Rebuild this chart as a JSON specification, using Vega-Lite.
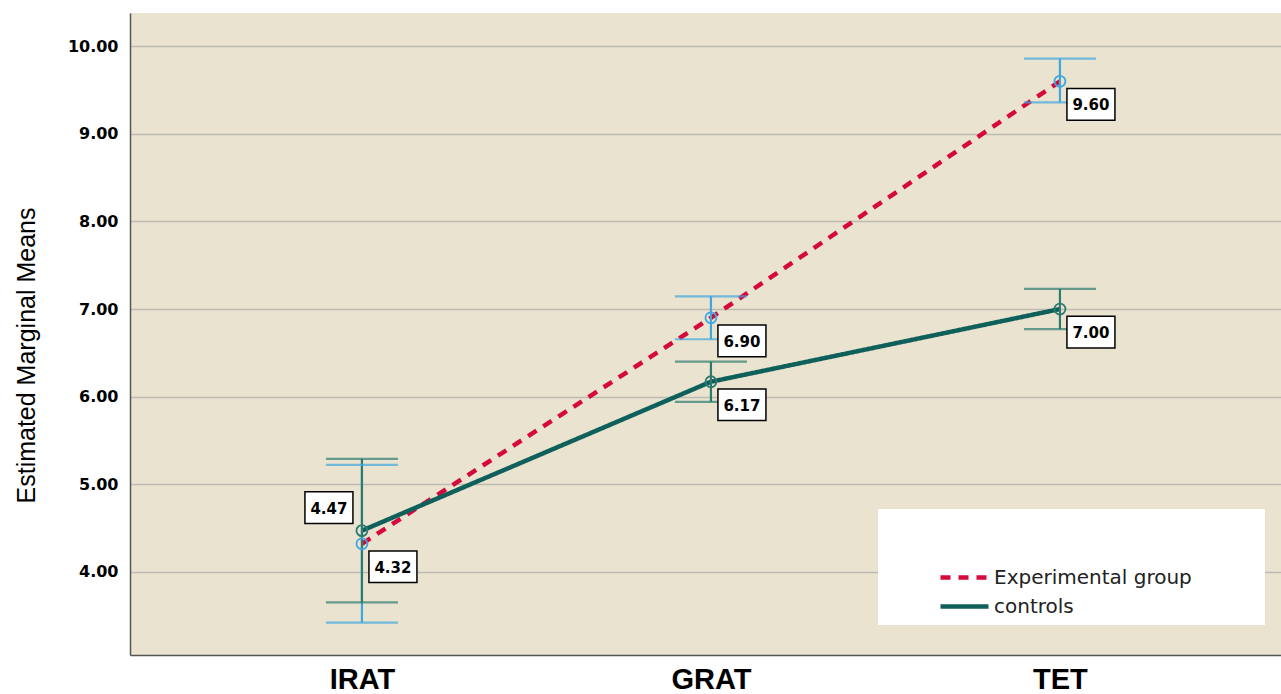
{
  "$schema": "https://vega.github.io/schema/vega-lite/v6.json",
  "width": 1151,
  "height": 642,
  "autosize": {"type": "none"},
  "padding": {"left": 130, "top": 13, "right": 0, "bottom": 39},
  "background": "white",
  "config": {"view": {"fill": "#EAE3D0", "stroke": null}},
  "data": {"values": [
    {"test": "IRAT", "group": "Experimental group", "mean": 4.32, "lo": 3.42, "hi": 5.22, "label": "4.32"},
    {"test": "GRAT", "group": "Experimental group", "mean": 6.90, "lo": 6.655, "hi": 7.145, "label": "6.90"},
    {"test": "TET", "group": "Experimental group", "mean": 9.60, "lo": 9.36, "hi": 9.86, "label": "9.60"},
    {"test": "IRAT", "group": "controls", "mean": 4.47, "lo": 3.65, "hi": 5.29, "label": "4.47"},
    {"test": "GRAT", "group": "controls", "mean": 6.17, "lo": 5.94, "hi": 6.40, "label": "6.17"},
    {"test": "TET", "group": "controls", "mean": 7.00, "lo": 6.77, "hi": 7.23, "label": "7.00"}
  ]},
  "encoding": {
    "x": {
      "field": "test", "type": "nominal", "sort": ["IRAT", "GRAT", "TET"],
      "scale": {"type": "point", "padding": 0.649, "align": 0.512},
      "axis": {
        "title": null, "ticks": false, "labelAngle": 0,
        "domainColor": "#555555", "domainWidth": 1.5,
        "labelFont": "Liberation Sans", "labelFontWeight": "bold", "labelFontSize": 29,
        "labelColor": "black", "labelPadding": 10
      }
    }
  },
  "layer": [
    {
      "mark": {"type": "line", "strokeWidth": 4.5},
      "encoding": {
        "y": {
          "field": "mean", "type": "quantitative",
          "scale": {"domain": [3.05, 10.38], "nice": false, "zero": false},
          "axis": {
            "values": [4, 5, 6, 7, 8, 9, 10], "format": ".2f",
            "grid": true, "gridColor": "#BDBAB0", "gridWidth": 1.5,
            "ticks": false, "domainColor": "#555555", "domainWidth": 1.5,
            "labelFont": "DejaVu Sans", "labelFontWeight": "bold", "labelFontSize": 16,
            "labelColor": "black", "labelPadding": 12,
            "title": "Estimated Marginal Means", "titleFont": "Liberation Sans",
            "titleFontSize": 25, "titleFontWeight": "normal", "titleColor": "black",
            "titlePadding": 28, "titleY": 342
          }
        },
        "color": {
          "field": "group", "type": "nominal",
          "scale": {"domain": ["Experimental group", "controls"], "range": ["#D6093C", "#0F5F5B"]},
          "legend": {
            "title": "\u2800\u2800\u2800\u2800\u2800\u2800\u2800\u2800\u2800\u2800\u2800\u2800\u2800\u2800\u2800\u2800\u2800\u2800\u2800\u2800\u2800\u2800\u2800\u2800\u2800\u2800\u2800\u2800\u2800\u2800\u2800\u2800\u2800\u2800\u2800\u2800\u2800\u2800\u2800\u2800\u2800\u2800\u2800\u2800\u2800\u2800\u2800\u2800\u2800\u2800\u2800\u2800\u2800\u2800\u2800\u2800\u2800\u2800\u2800\u2800\u2800\u2800\u2800\u2800\u2800\u2800\u2800\u2800\u2800\u2800\u2800\u2800\u2800\u2800\u2800\u2800\u2800\u2800\u2800\u2800",
            "titleFont": "DejaVu Sans", "titleFontSize": 8, "titlePadding": 38, "titleLimit": 375, "titleOpacity": 0,
            "orient": "none", "legendX": 748, "legendY": 496,
            "fillColor": "white", "padding": 8,
            "symbolType": "M-1,0H3", "symbolSize": 576, "symbolStrokeWidth": 4.5,
            "symbolOffset": 52, "labelOffset": 27, "labelLimit": 400,
            "rowPadding": 4,
            "labelFont": "DejaVu Sans", "labelFontSize": 20, "labelColor": "#222222"
          }
        },
        "strokeDash": {
          "field": "group", "type": "nominal",
          "scale": {"domain": ["Experimental group", "controls"], "range": [[10, 8], [1, 0]]},
          "legend": {
            "title": "\u2800\u2800\u2800\u2800\u2800\u2800\u2800\u2800\u2800\u2800\u2800\u2800\u2800\u2800\u2800\u2800\u2800\u2800\u2800\u2800\u2800\u2800\u2800\u2800\u2800\u2800\u2800\u2800\u2800\u2800\u2800\u2800\u2800\u2800\u2800\u2800\u2800\u2800\u2800\u2800\u2800\u2800\u2800\u2800\u2800\u2800\u2800\u2800\u2800\u2800\u2800\u2800\u2800\u2800\u2800\u2800\u2800\u2800\u2800\u2800\u2800\u2800\u2800\u2800\u2800\u2800\u2800\u2800\u2800\u2800\u2800\u2800\u2800\u2800\u2800\u2800\u2800\u2800\u2800\u2800",
            "titleFont": "DejaVu Sans", "titleFontSize": 8, "titlePadding": 38, "titleLimit": 375, "titleOpacity": 0,
            "orient": "none", "legendX": 748, "legendY": 496,
            "fillColor": "white", "padding": 8,
            "symbolType": "M-1,0H3", "symbolSize": 576, "symbolStrokeWidth": 4.5,
            "symbolOffset": 52, "labelOffset": 27, "labelLimit": 400,
            "rowPadding": 4,
            "labelFont": "DejaVu Sans", "labelFontSize": 20, "labelColor": "#222222"
          }
        }
      }
    },
    {
      "mark": {"type": "rule", "strokeWidth": 2.2},
      "encoding": {
        "y": {"field": "lo", "type": "quantitative"},
        "y2": {"field": "hi"},
        "color": {"condition": {"test": "datum.group === 'Experimental group'", "value": "#3FA7DF"}, "value": "#2D7A70"}
      }
    },
    {
      "mark": {"type": "tick", "thickness": 2.2, "size": 72},
      "encoding": {
        "y": {"field": "lo", "type": "quantitative"},
        "color": {"condition": {"test": "datum.group === 'Experimental group'", "value": "#3FA7DF"}, "value": "#2D7A70"}
      }
    },
    {
      "mark": {"type": "tick", "thickness": 2.2, "size": 72},
      "encoding": {
        "y": {"field": "hi", "type": "quantitative"},
        "color": {"condition": {"test": "datum.group === 'Experimental group'", "value": "#3FA7DF"}, "value": "#2D7A70"}
      }
    },
    {
      "mark": {"type": "point", "filled": false, "size": 120, "strokeWidth": 1.8, "opacity": 1},
      "encoding": {
        "y": {"field": "mean", "type": "quantitative"},
        "color": {"condition": {"test": "datum.group === 'Experimental group'", "value": "#3FA7DF"}, "value": "#2D7A70"}
      }
    },
    {
      "transform": [{"filter": "!(datum.test === 'IRAT' && datum.group === 'controls')"}],
      "mark": {"type": "point", "shape": "M-1,-0.66H1V0.66H-1Z", "size": 2304, "filled": true, "fill": "white", "stroke": "black", "strokeWidth": 1.5, "opacity": 1, "xOffset": 31, "yOffset": 23},
      "encoding": {"y": {"field": "mean", "type": "quantitative"}}
    },
    {
      "transform": [{"filter": "!(datum.test === 'IRAT' && datum.group === 'controls')"}],
      "mark": {"type": "text", "font": "DejaVu Sans", "fontWeight": "bold", "fontSize": 15, "color": "black", "align": "center", "baseline": "middle", "xOffset": 31, "yOffset": 24},
      "encoding": {"y": {"field": "mean", "type": "quantitative"}, "text": {"field": "label"}}
    },
    {
      "transform": [{"filter": "datum.test === 'IRAT' && datum.group === 'controls'"}],
      "mark": {"type": "point", "shape": "M-1,-0.66H1V0.66H-1Z", "size": 2304, "filled": true, "fill": "white", "stroke": "black", "strokeWidth": 1.5, "opacity": 1, "xOffset": -33, "yOffset": -23},
      "encoding": {"y": {"field": "mean", "type": "quantitative"}}
    },
    {
      "transform": [{"filter": "datum.test === 'IRAT' && datum.group === 'controls'"}],
      "mark": {"type": "text", "font": "DejaVu Sans", "fontWeight": "bold", "fontSize": 15, "color": "black", "align": "center", "baseline": "middle", "xOffset": -33, "yOffset": -22},
      "encoding": {"y": {"field": "mean", "type": "quantitative"}, "text": {"field": "label"}}
    }
  ]
}
